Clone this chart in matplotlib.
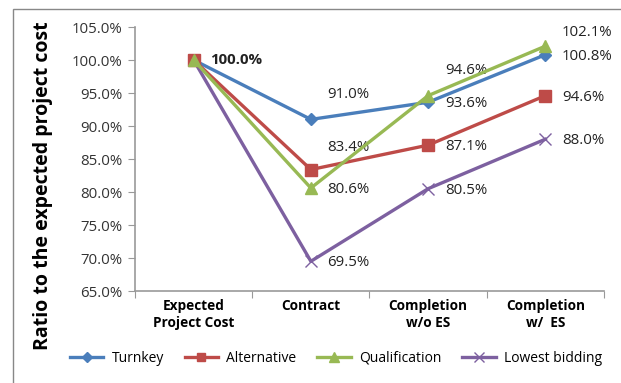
import matplotlib.pyplot as plt
from matplotlib.patches import Rectangle

plt.rcParams['font.family'] = ['Open Sans', 'DejaVu Sans']

stages = ['Expected\nProject Cost', 'Contract', 'Completion\nw/o ES', 'Completion\nw/  ES']
turnkey = [100.0, 91.0, 93.6, 100.8]
alternative = [100.0, 83.4, 87.1, 94.6]
qualification = [100.0, 80.6, 94.6, 102.1]
lowest = [100.0, 69.5, 80.5, 88.0]

fig = plt.figure(figsize=(6.21, 3.83), dpi=100)
ax = fig.add_axes([0.2174, 0.2402, 0.7552, 0.6893])

x = [0, 1, 2, 3]
ax.plot(x, turnkey, color='#4A7EBB', lw=2.4, marker='D', ms=6, label='Turnkey', zorder=3)
ax.plot(x, alternative, color='#BE4B48', lw=2.4, marker='s', ms=8, label='Alternative', zorder=3)
ax.plot(x, qualification, color='#98B954', lw=2.4, marker='^', ms=9, label='Qualification', zorder=4)
ax.plot(x, lowest, color='#7D60A0', lw=2.4, marker='x', ms=9, mew=1, label='Lowest bidding', zorder=2)

# etiquetas dos pontos (deslocamento em pontos)
def lab(i, v, dy=0, **kw):
    ax.annotate(f'{v:.1f}%', (i, v), xytext=(12, dy), textcoords='offset points',
                ha='left', va='center', fontsize=10.8, color='#222222', **kw)

lab(0, 100.0, weight='bold')
lab(1, turnkey[1], 18)
lab(1, alternative[1], 16)
lab(1, qualification[1], -1)
lab(1, lowest[1], -1)
lab(2, qualification[2], 18)
lab(2, turnkey[2], -1)
lab(2, alternative[2], -1)
lab(2, lowest[2], -1)
lab(3, qualification[3], 10)
lab(3, turnkey[3], -1)
lab(3, alternative[3], -1)
lab(3, lowest[3], -1)

ax.set_xlim(-0.5, 3.5)
ax.set_ylim(65, 105)
ax.set_yticks(range(65, 106, 5))
ax.set_yticklabels([f'{v:.1f}%' for v in range(65, 106, 5)], fontsize=10.8, color='#333333')
ax.set_xticks([-0.5, 0.5, 1.5, 2.5, 3.5])
ax.set_xticklabels([])
ax.set_xticks(x, minor=True)
ax.set_xticklabels(stages, minor=True, fontsize=9.8, weight='bold')
ax.tick_params(axis='x', which='minor', length=0, pad=6)
ax.tick_params(axis='x', which='major', length=5, color='#999999', direction='out')
ax.tick_params(axis='y', length=5, color='#999999', pad=4)
for s in ['top', 'right']:
    ax.spines[s].set_visible(False)
for s in ['left', 'bottom']:
    ax.spines[s].set_color('#999999')
    ax.spines[s].set_linewidth(1.2)

fig.text(0.07, 0.516, 'Ratio to the expected project cost', rotation=90,
         ha='center', va='center', fontsize=14, weight='bold')

fig.legend(loc='center', bbox_to_anchor=(0.541, 0.065), ncol=4, frameon=False,
           fontsize=10, handlelength=2.4, handletextpad=0.6, columnspacing=1.5,
           markerscale=0.8)

fig.add_artist(Rectangle((13 / 621, -0.2), 1.0, 1.2 - 9 / 383, transform=fig.transFigure,
                         fill=False, edgecolor='#888888', lw=1))

fig.savefig('out.png', dpi=100)
